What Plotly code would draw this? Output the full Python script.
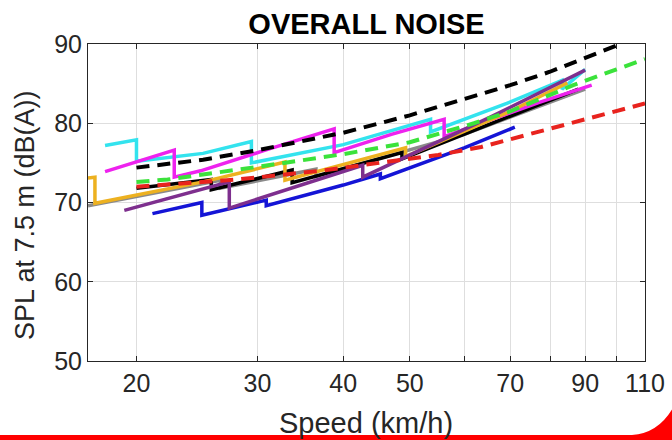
import plotly.graph_objects as go
import math

# ---------------- data ----------------
ref_black_v = [20, 25, 30, 40, 50, 60, 70, 80, 90, 100]
ref_black_L = [74.4, 75.4, 76.6, 78.8, 81.0, 83.0, 84.8, 86.5, 88.2, 89.8]

ref_green_v = [20, 22.2, 30, 40, 50, 62, 70, 86.5, 100, 110]
ref_green_L = [72.6, 72.9, 74.5, 76.1, 77.6, 80.0, 81.5, 84.8, 86.8, 88.1]

ref_red_v = [20, 28, 37, 46, 55, 63.5, 80, 90, 100, 110]
ref_red_L = [72.0, 72.9, 74.0, 75.1, 76.0, 77.0, 79.3, 80.6, 81.6, 82.5]

gray_v = [17.0, 26.5, 26.5, 36.5, 36.5, 60, 90]
gray_L = [69.6, 72.8, 71.8, 74.2, 73.3, 78.6, 84.3]

blue_v = [21.1, 24.9, 24.9, 30.9, 30.9, 40, 45.3, 45.3, 60, 71.1]
blue_L = [68.6, 70.0, 68.4, 70.3, 69.6, 72.2, 73.6, 73.0, 76.9, 79.5]

black_v = [20.0, 25.7, 25.7, 33.7, 33.7, 48.7, 48.7, 65, 88]
black_L = [71.8, 72.9, 71.6, 74.1, 72.5, 76.3, 75.5, 79.8, 84.3]

gold_v = [17.0, 17.4, 17.4, 25, 32.9, 32.9, 49.3, 49.3, 69.2, 84.8]
gold_L = [73.1, 73.2, 69.9, 72.6, 75.1, 72.8, 76.9, 75.8, 81.3, 85.1]

cyan_v = [18.0, 20.0, 20.0, 25.0, 29.4, 29.4, 40.0, 53.6, 53.6, 58.7, 69.2, 83.3, 83.3, 90.0]
cyan_L = [77.2, 77.9, 75.2, 76.2, 77.7, 75.0, 77.3, 80.5, 78.9, 80.2, 82.5, 85.4, 84.3, 86.8]

magenta_v = [18.0, 22.7, 22.7, 24.8, 30.8, 38.8, 38.8, 47.0, 56.1, 56.1, 65.0, 77.0, 92.0]
magenta_L = [73.9, 76.6, 73.2, 74.0, 76.6, 79.3, 76.3, 78.6, 80.5, 78.3, 80.3, 82.6, 84.8]

purple_v = [19.2, 27.3, 27.3, 42.7, 42.7, 65.6, 90.0]
purple_L = [69.0, 72.6, 69.3, 74.7, 73.2, 80.8, 86.7]

x_tickvals = [20, 30, 40, 50, 60, 70, 80, 90, 100, 110]
x_ticktext = ["20", "30", "40", "50", "", "70", "", "90", "", "110"]
y_tickvals = [50, 60, 70, 80, 90]

# ---------------- figure ----------------
fig = go.Figure()

solids = [
    (gray_v, gray_L, "#8A8A8A"),
    (blue_v, blue_L, "#1414D6"),
    (black_v, black_L, "#000000"),
    (cyan_v, cyan_L, "#33E3EE"),
    (magenta_v, magenta_L, "#EE22EE"),
    (gold_v, gold_L, "#EDB120"),
    (purple_v, purple_L, "#7E2F8E"),
]
for v, L, c in solids:
    fig.add_trace(go.Scatter(x=v, y=L, mode="lines",
                             line=dict(color=c, width=3.5), hoverinfo="skip"))

dashed = [
    (ref_red_v, ref_red_L, "#E8231E"),
    (ref_green_v, ref_green_L, "#3BE23B"),
    (ref_black_v, ref_black_L, "#000000"),
]
for v, L, c in dashed:
    fig.add_trace(go.Scatter(x=v, y=L, mode="lines",
                             line=dict(color=c, width=4, dash="13px,8px"),
                             hoverinfo="skip"))

W, H = 672, 440
L_, R_, T_, B_ = 88, 645, 44, 361
pw, ph = R_ - L_, B_ - T_

def px(x):
    return (x - L_) / pw

def py(y):
    return (B_ - y) / ph

red_path = (f"M {px(-5)},{py(435)} L {px(632)},{py(435)} "
            f"Q {px(662)},{py(433)} {px(677)},{py(400)} "
            f"L {px(677)},{py(446)} L {px(-5)},{py(446)} Z")

fig.update_layout(
    width=W, height=H,
    margin=dict(l=L_, r=W - R_, t=T_, b=H - B_, autoexpand=False),
    paper_bgcolor="white", plot_bgcolor="white",
    showlegend=False,
    font=dict(family="Liberation Sans, Arial, sans-serif", color="#262626"),
    title=dict(text="<b>OVERALL NOISE</b>", x=(L_ + R_) / 2 / W, xanchor="center",
               y=1 - 24 / H, yanchor="middle", yref="container",
               font=dict(size=29, color="#000000")),
    shapes=[dict(type="path", xref="paper", yref="paper", path=red_path,
                 fillcolor="#FF0000", line=dict(width=0), layer="above")],
    annotations=[
        dict(text="Speed (km/h)", xref="paper", yref="paper",
             x=px(366), y=py(423), xanchor="center", yanchor="middle",
             showarrow=False, font=dict(size=29, color="#262626")),
        dict(text="SPL at 7.5 m (dB(A))", xref="paper", yref="paper",
             x=px(25), y=py(215), xanchor="center", yanchor="middle",
             textangle=-90, showarrow=False, font=dict(size=27, color="#262626")),
    ],
)

fig.update_xaxes(
    type="log", range=[math.log10(17.0), math.log10(110)],
    tickvals=x_tickvals, ticktext=x_ticktext, automargin=False,
    showgrid=True, gridcolor="#DEDEDE", gridwidth=1,
    showline=True, linecolor="#262626", linewidth=1, mirror="ticks",
    ticks="inside", ticklen=5, tickcolor="#262626",
    tickfont=dict(size=25, color="#262626"),
    zeroline=False,
)
fig.update_yaxes(
    range=[50, 90], tickvals=y_tickvals, automargin=False,
    showgrid=True, gridcolor="#DEDEDE", gridwidth=1,
    showline=True, linecolor="#262626", linewidth=1, mirror="ticks",
    ticks="inside", ticklen=5, tickcolor="#262626",
    tickfont=dict(size=25, color="#262626"),
    zeroline=False,
)

fig.write_html("out.html", config={"displayModeBar": False},
               post_script="document.body.style.margin='0px';document.body.style.overflow='hidden';")
